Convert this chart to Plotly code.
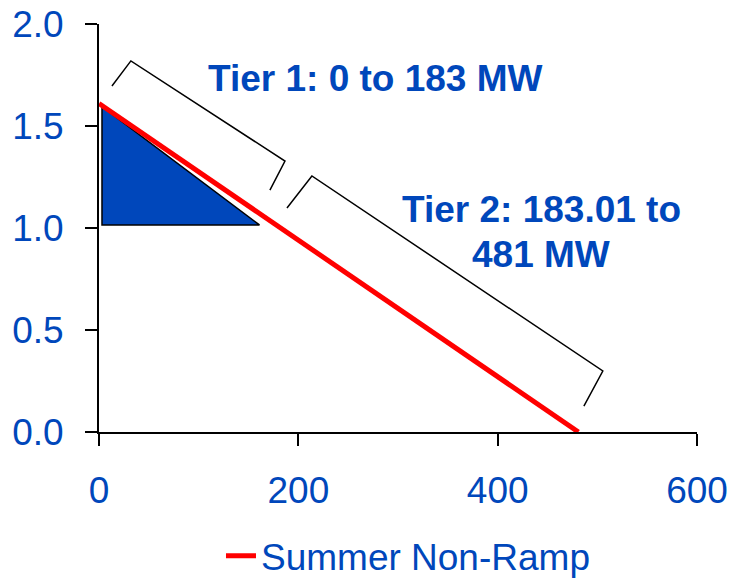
import plotly.graph_objects as go

# Data
line_x = [0, 481]
line_y = [1.61, 0.0]

tri_x = [3, 3, 161, 3]
tri_y = [1.595, 1.015, 1.015, 1.595]

bracket1_x = [13, 32, 186.6, 171.5]
bracket1_y = [1.696, 1.819, 1.328, 1.186]
bracket2_x = [188.6, 213.6, 505.5, 486.5]
bracket2_y = [1.098, 1.255, 0.299, 0.127]

x_ticks = [0, 200, 400, 600]
y_ticks = [0.0, 0.5, 1.0, 1.5, 2.0]
y_tick_labels = ["0.0", "0.5", "1.0", "1.5", "2.0"]

tier1_label = "Tier 1: 0 to 183 MW"
tier2_line1 = "Tier 2: 183.01 to"
tier2_line2 = "481 MW"
series_name = "Summer Non-Ramp"

BLUE = "#0047BB"
FONT = "Liberation Sans, Arial, sans-serif"
FS = 37

fig = go.Figure()

fig.add_trace(go.Scatter(
    x=tri_x, y=tri_y, mode="lines", fill="toself",
    fillcolor=BLUE, line=dict(color="black", width=1.5),
    showlegend=False, hoverinfo="skip"))

for bx, by in [(bracket1_x, bracket1_y), (bracket2_x, bracket2_y)]:
    fig.add_trace(go.Scatter(
        x=bx, y=by, mode="lines", line=dict(color="black", width=1.5),
        showlegend=False, hoverinfo="skip"))

fig.add_trace(go.Scatter(
    x=line_x, y=line_y, mode="lines", name=series_name,
    line=dict(color="#FF0000", width=5)))

ann_font = dict(size=FS, color=BLUE, family=FONT)
fig.add_annotation(x=277, y=1.733, text="<b>" + tier1_label + "</b>",
                   showarrow=False, font=ann_font, xanchor="center", yanchor="middle")
fig.add_annotation(x=443.9, y=1.091, text="<b>" + tier2_line1 + "</b>",
                   showarrow=False, font=ann_font, xanchor="center", yanchor="middle")
fig.add_annotation(x=443, y=0.868, text="<b>" + tier2_line2 + "</b>",
                   showarrow=False, font=ann_font, xanchor="center", yanchor="middle")

fig.update_layout(
    template="none",
    width=733, height=580,
    margin=dict(l=99, r=36, t=24, b=148, pad=0),
    paper_bgcolor="white", plot_bgcolor="white",
    font=dict(family=FONT, color=BLUE, size=FS),
    showlegend=True,
    legend=dict(orientation="h", x=0.204, xanchor="left",
                yref="container", y=0.041, yanchor="middle",
                font=dict(size=FS, color=BLUE, family=FONT),
                bgcolor="rgba(0,0,0,0)", borderwidth=0),
    xaxis=dict(range=[0, 600], tickvals=x_ticks, showgrid=False, zeroline=False,
               automargin=False, ticklabeloverflow="allow",
               showline=True, linecolor="black", linewidth=2,
               ticks="outside", ticklen=12, tickwidth=2, tickcolor="black",
               tickfont=dict(size=FS, color=BLUE, family=FONT), ticklabelstandoff=13),
    yaxis=dict(range=[0, 2.0], tickvals=y_ticks, ticktext=y_tick_labels,
               showgrid=False, zeroline=False, automargin=False, ticklabeloverflow="allow",
               showline=True, linecolor="black", linewidth=2,
               ticks="outside", ticklen=12, tickwidth=2, tickcolor="black",
               tickfont=dict(size=FS, color=BLUE, family=FONT), ticklabelstandoff=14),
)

fig.write_html("out.html", config={"displayModeBar": False},
               post_script="document.body.style.margin='0';document.body.style.overflow='hidden';")
